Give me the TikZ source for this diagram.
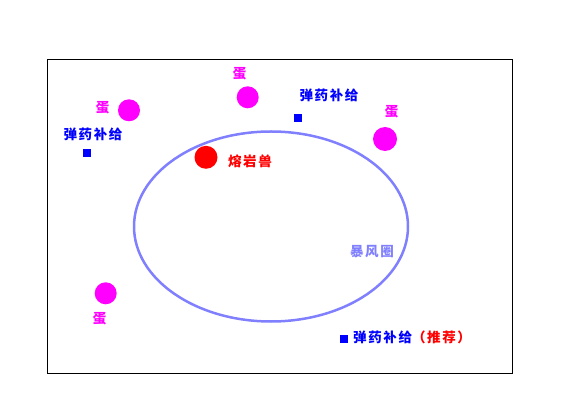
\documentclass[tikz,border=0pt]{standalone}
\usepackage{fontspec}
\newfontfamily\cjk[LetterSpace=12]{Noto Sans CJK SC}
\definecolor{storm}{RGB}{128,128,255}
\definecolor{eggpink}{RGB}{255,0,255}
\definecolor{ammoblue}{RGB}{0,0,255}
\definecolor{bossred}{RGB}{255,0,0}
\begin{document}
\begin{tikzpicture}[x=1pt, y=-1pt, font=\cjk\bfseries\fontsize{13.5}{13.5}\selectfont,
	egg/.style={circle, fill=eggpink, inner sep=0pt, minimum size=22pt},
	ammo/.style={fill=ammoblue, inner sep=0pt, minimum size=8pt},
	lbl/.style={inner sep=0pt}]
	\path[use as bounding box] (0,0) rectangle (580,419);
	\draw[line width=1pt] (47.5,59.5) rectangle (512.5,373.5);
	%\tikzset{lbl/.style={font=\footnotesize}}
	\draw[storm, line width=2.5pt] (271,226.5) ellipse [x radius=137pt, y radius=95pt];
	\node[lbl, text=storm] (ring) at (372,251.5) {暴风圈};
	\node[egg] (egga) at (129,110.3) {};
	\node[egg] (eggb) at (247.7,97.3) {};
	\node[egg, minimum size=24pt] (eggc) at (385,139) {};
	\node[egg] (eggd) at (105.7,293.3) {};
	\node[lbl, text=eggpink] (egga-l) at (102.5,107.3) {蛋};
	\node[lbl, text=eggpink] (eggb-l) at (239.5,74) {蛋};
	\node[lbl, text=eggpink] (eggc-l) at (391.5,112) {蛋};
	\node[lbl, text=eggpink] (eggd-l) at (99.5,318.3) {蛋};
	\node[circle, fill=bossred, inner sep=0pt, minimum size=23pt] (boss) at (206,157.3) {};
	\node[lbl, text=bossred] (boss-l) at (250,161) {熔岩兽};
	\node[ammo] (ammoa) at (87,153) {};
	\node[ammo] (ammob) at (297.7,118) {};
	\node[ammo] (ammoc) at (343.7,338.7) {};
	\node[lbl, text=ammoblue] (ammoa-l) at (93,134.3) {弹药补给};
	\node[lbl, text=ammoblue] (ammob-l) at (329,95.3) {弹药补给};
	\node[lbl, text=ammoblue, anchor=west] (ammoc-l) at (353,337.3) {弹药补给\textcolor{bossred}{（推荐）}};
\end{tikzpicture}
\end{document}
